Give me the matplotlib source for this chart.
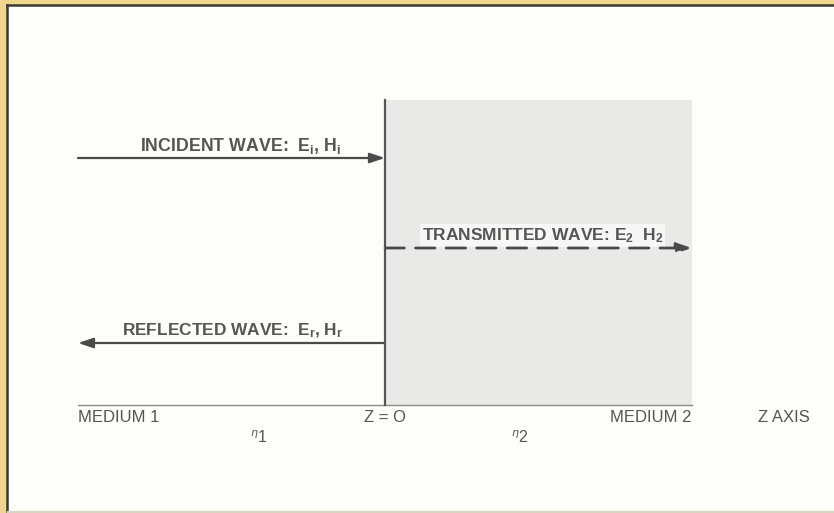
import matplotlib.pyplot as plt
from matplotlib.patches import Rectangle

plt.rcParams['font.family'] = ['Liberation Sans', 'DejaVu Sans']
plt.rcParams['mathtext.fontset'] = 'custom'
plt.rcParams['mathtext.rm'] = 'Liberation Sans'

# wave labels and directions (+1 = towards medium 2, -1 = back to medium 1)
wave_labels = [r"INCIDENT WAVE:  E$\mathregular{_i}$, H$\mathregular{_i}$",
               r"TRANSMITTED WAVE: E$\mathregular{_2}$  H$\mathregular{_2}$",
               r"REFLECTED WAVE:  E$\mathregular{_r}$, H$\mathregular{_r}$"]
wave_dirs = [1, 1, -1]
wave_medium = [1, 2, 1]
axis_labels = ["MEDIUM 1", "Z = O", "MEDIUM 2", "Z AXIS"]
impedance_labels = [r"$^{\eta}$1", r"$^{\eta}$2"]

W, H = 834, 513
fig = plt.figure(figsize=(W / 100, H / 100), dpi=100, facecolor='#efd68f')
ax = fig.add_axes([0, 0, 1, 1])
ax.set_xlim(0, W)
ax.set_ylim(H, 0)
ax.axis('off')

# white panel + dark frame edge
ax.add_patch(Rectangle((8, 6), W - 8, H - 8, facecolor='#fdfdf9', edgecolor='none'))
ax.plot([7, 7], [5, H - 2], color='#3b3a30', lw=1.8)
ax.plot([7, W], [5, 5], color='#3b3a30', lw=1.8)
ax.plot([8, W], [H - 1.5, H - 1.5], color='#d8d4c4', lw=1.5)

z_left, z0, z_right = 78, 385, 692
top, base = 100, 405
ink = '#4a4a4a'
txt = '#555555'

# medium 2 shading and interface
ax.add_patch(Rectangle((z0, top), z_right - z0, base - top, facecolor='#e9e9e7', edgecolor='none'))
ax.plot([z0, z0], [top, base], color='#555555', lw=1.6, zorder=4)
ax.plot([z_left, z_right], [base, base], color='#8a8a8a', lw=1.0)

rows = [158, 248, 343]
offsets = [(9, 7), (4, 8), (1, 8)]
sizes = [12.8, 12.5, 12.4]
for label, d, med, y, (dx, dy), fs in zip(wave_labels, wave_dirs, wave_medium, rows, offsets, sizes):
    x0, x1 = (z_left, z0) if med == 1 else (z0, z_right)
    start, end = (x0, x1) if d > 0 else (x1, x0)
    ls = '-' if med == 1 else (0, (7, 4))
    ax.annotate('', xy=(end, y), xytext=(start, y), zorder=3,
                arrowprops=dict(arrowstyle='-|>,head_length=0.9,head_width=0.3',
                                color=ink, lw=1.6 if med == 1 else 2.0, linestyle=ls,
                                shrinkA=0, shrinkB=0, mutation_scale=10))
    box = None if med == 1 else dict(facecolor='#f7f7f5', edgecolor='none', pad=1.5)
    ax.text((x0 + x1) / 2 + dx, y - dy, label, ha='center', va='baseline', zorder=2,
            fontsize=fs, fontweight='bold', color=txt, bbox=box)

# bottom labels
lab_y = 417
ax.text(z_left, lab_y, axis_labels[0], ha='left', va='center', fontsize=12, color=txt)
ax.text(z0, lab_y, axis_labels[1], ha='center', va='center', fontsize=12, color=txt)
ax.text(z_right, lab_y, axis_labels[2], ha='right', va='center', fontsize=12, color=txt)
ax.text(784, lab_y, axis_labels[3], ha='center', va='center', fontsize=12, color=txt)
ax.text(259, 438, impedance_labels[0], ha='center', va='center', fontsize=11.5, color=txt)
ax.text(520, 438, impedance_labels[1], ha='center', va='center', fontsize=11.5, color=txt)

fig.savefig('out.png', dpi=100, facecolor=fig.get_facecolor())
